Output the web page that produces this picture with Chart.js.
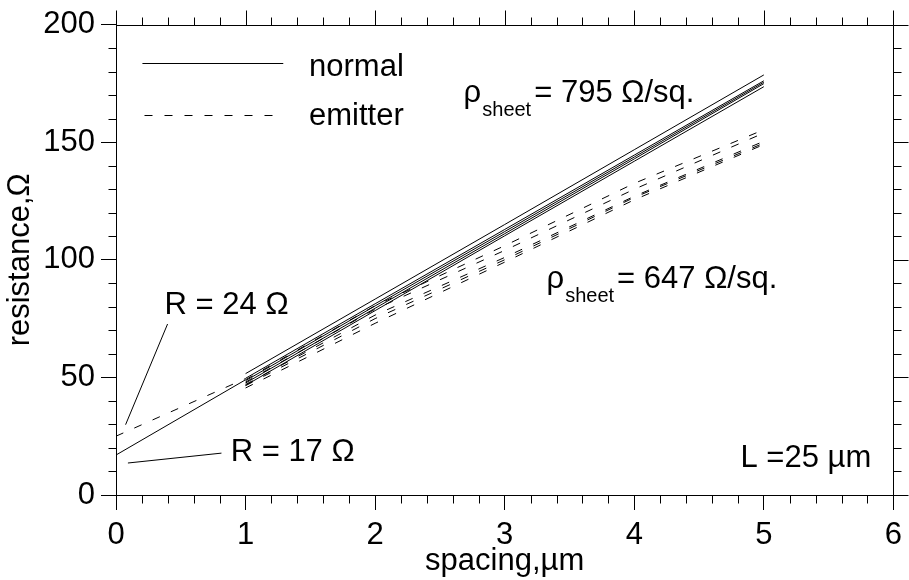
<!DOCTYPE html>
<html><head><meta charset="utf-8">
<script src="https://cdn.jsdelivr.net/npm/chart.js@4"></script>
<style>html,body{margin:0;padding:0;background:#fff}#wrap{width:909px;height:580px;position:relative}</style>
</head><body><div id="wrap"><canvas id="c"></canvas></div>
<script>
// ---- data ----
const spacing = [1, 2, 3, 4, 5];
const normal1 = [51.6, 83.3, 115.0, 146.8, 178.6];
const normal2 = [49.6, 81.3, 112.9, 144.5, 176.1];
const normal3 = [48.6, 80.4, 112.0, 143.7, 175.5];
const normal4 = [47.6, 79.4, 111.1, 142.9, 174.9];
const normal5 = [46.6, 78.4, 110.2, 141.9, 173.6];
const emitter1 = [49.0, 80.5, 106.0, 132.5, 155.3];
const emitter2 = [48.0, 79.0, 104.0, 130.0, 153.9];
const emitter3 = [47.0, 76.5, 101.0, 127.0, 150.4];
const emitter4 = [46.5, 75.0, 100.0, 126.5, 149.6];
const emitter5 = [45.5, 73.0, 99.0, 125.5, 149.0];
const fitSpacing = [0, 1];
const fitNormal = [17, 49];
const fitEmitter = [25, 49.5];
const xTicks = [0, 1, 2, 3, 4, 5, 6];
const yTicks = [0, 50, 100, 150, 200];
const xMinorStep = 0.2;
const yMinorStep = 10;

const FONT = '"Liberation Sans", Arial, Helvetica, sans-serif';
const FS = 31;
const pts = (xs, ys) => xs.map((v, i) => ({x: v, y: ys[i]}));
const solid = (d) => ({data: d, borderColor: '#000', borderWidth: 1, pointRadius: 0, showLine: true, fill: false, tension: 0});
const dashed = (d) => ({...solid(d), borderDash: [8, 12]});

const datasets = [
  solid(pts(fitSpacing, fitNormal)),
  dashed(pts(fitSpacing, fitEmitter)),
  solid(pts(spacing, normal1)), solid(pts(spacing, normal2)), solid(pts(spacing, normal3)),
  solid(pts(spacing, normal4)), solid(pts(spacing, normal5)),
  dashed(pts(spacing, emitter1)), dashed(pts(spacing, emitter2)), dashed(pts(spacing, emitter3)),
  dashed(pts(spacing, emitter4)), dashed(pts(spacing, emitter5))
];

const decor = {
  id: 'decor',
  afterDraw(chart) {
    const {ctx, chartArea: a, scales: {x, y}} = chart;
    const L = Math.round(a.left) + 0.5, R = Math.round(a.right) + 0.5;
    const T = Math.round(a.top) + 0.5, B = Math.round(a.bottom) + 0.5;
    ctx.save();
    ctx.strokeStyle = '#000'; ctx.lineWidth = 1; ctx.setLineDash([]);
    const seg = (x1, y1, x2, y2) => { ctx.beginPath(); ctx.moveTo(x1, y1); ctx.lineTo(x2, y2); ctx.stroke(); };
    seg(L, T, R, T); seg(R, T, R, B);
    const px = v => Math.round(x.getPixelForValue(v)) + 0.5;
    const py = v => Math.round(y.getPixelForValue(v)) + 0.5;
    const xMin = xTicks[0], xMax = xTicks[xTicks.length - 1];
    const yMin = yTicks[0], yMax = yTicks[yTicks.length - 1];
    for (const v of xTicks) { seg(px(v), T, px(v), T - 15); }
    for (const v of yTicks) { seg(R, py(v), R + 15, py(v)); }
    for (let i = 1; xMin + i * xMinorStep < xMax - 1e-6; i++) {
      const v = xMin + i * xMinorStep;
      if (Math.abs(v - Math.round(v)) < 1e-6) continue;
      seg(px(v), B, px(v), B + 8); seg(px(v), T, px(v), T - 8);
    }
    for (let i = 1; yMin + i * yMinorStep < yMax - 1e-6; i++) {
      const v = yMin + i * yMinorStep;
      if (v % 50 === 0) continue;
      seg(L, py(v), L - 8, py(v)); seg(R, py(v), R + 8, py(v));
    }
    // legend
    seg(x.getPixelForValue(0.204), py(183.5), x.getPixelForValue(1.291), py(183.5));
    ctx.setLineDash([8, 12]);
    seg(x.getPixelForValue(0.22), py(161.7), x.getPixelForValue(1.25), py(161.7));
    ctx.setLineDash([]);
    // leader lines
    seg(x.getPixelForValue(0.398), y.getPixelForValue(72.7), x.getPixelForValue(0.074), y.getPixelForValue(29.9));
    seg(x.getPixelForValue(0.814), y.getPixelForValue(17.8), x.getPixelForValue(0.092), y.getPixelForValue(13.6));
    // texts
    ctx.fillStyle = '#000'; ctx.textBaseline = 'alphabetic'; ctx.textAlign = 'left';
    const main = FS + 'px ' + FONT, sub = '20px ' + FONT;
    const text = (s, xv, yv) => { ctx.font = main; ctx.fillText(s, x.getPixelForValue(xv), y.getPixelForValue(yv)); };
    text('normal', 1.49, 178.3);
    text('emitter', 1.49, 157.3);
    text('R = 24 \u03A9', 0.375, 76.9);
    text('R = 17 \u03A9', 0.885, 14.3);
    text('L =25 \u00B5m', 4.82, 12.0);
    const rho = (xv, yv, rest) => {
      let X = x.getPixelForValue(xv), Y = y.getPixelForValue(yv);
      ctx.font = main; ctx.fillText('\u03C1', X, Y); X += ctx.measureText('\u03C1').width + 1;
      ctx.font = sub; ctx.fillText('sheet', X, Y + 13.5); X += ctx.measureText('sheet').width + 3;
      ctx.font = main; ctx.fillText(rest, X, Y);
    };
    rho(2.683, 167.0, '= 795 \u03A9/sq.');
    rho(3.323, 87.9, '= 647 \u03A9/sq.');
    ctx.restore();
  }
};

new Chart(document.getElementById('c'), {
  type: 'scatter',
  data: {datasets},
  options: {
    responsive: true, maintainAspectRatio: false, animation: false,
    layout: {padding: {top: 21, right: 8, left: 0, bottom: 0}},
    plugins: {legend: {display: false}, tooltip: {enabled: false}},
    scales: {
      x: {
        type: 'linear', min: 0, max: 6,
        afterFit: s => { s.height = 85; },
        afterBuildTicks: s => { s.ticks = xTicks.map(v => ({value: v})); },
        ticks: {color: '#000', font: {family: FONT, size: FS}, padding: 7, maxRotation: 0, autoSkip: false},
        grid: {drawOnChartArea: false, drawTicks: true, tickLength: 15, tickColor: '#000', tickWidth: 1},
        border: {display: true, color: '#000', width: 1},
        title: {display: true, text: 'spacing,\u00B5m', color: '#000', font: {family: FONT, size: FS}, padding: {top: 0, bottom: 0}}
      },
      y: {
        type: 'linear', min: 0, max: 200,
        afterFit: s => { s.width = 116; },
        afterBuildTicks: s => { s.ticks = yTicks.map(v => ({value: v})); },
        ticks: {color: '#000', font: {family: FONT, size: FS}, padding: 6, autoSkip: false},
        grid: {drawOnChartArea: false, drawTicks: true, tickLength: 15, tickColor: '#000', tickWidth: 1},
        border: {display: true, color: '#000', width: 1},
        title: {display: true, text: 'resistance,\u03A9', color: '#000', font: {family: FONT, size: FS}, padding: {top: 2, bottom: 0}}
      }
    }
  },
  plugins: [decor]
});
</script></body></html>
